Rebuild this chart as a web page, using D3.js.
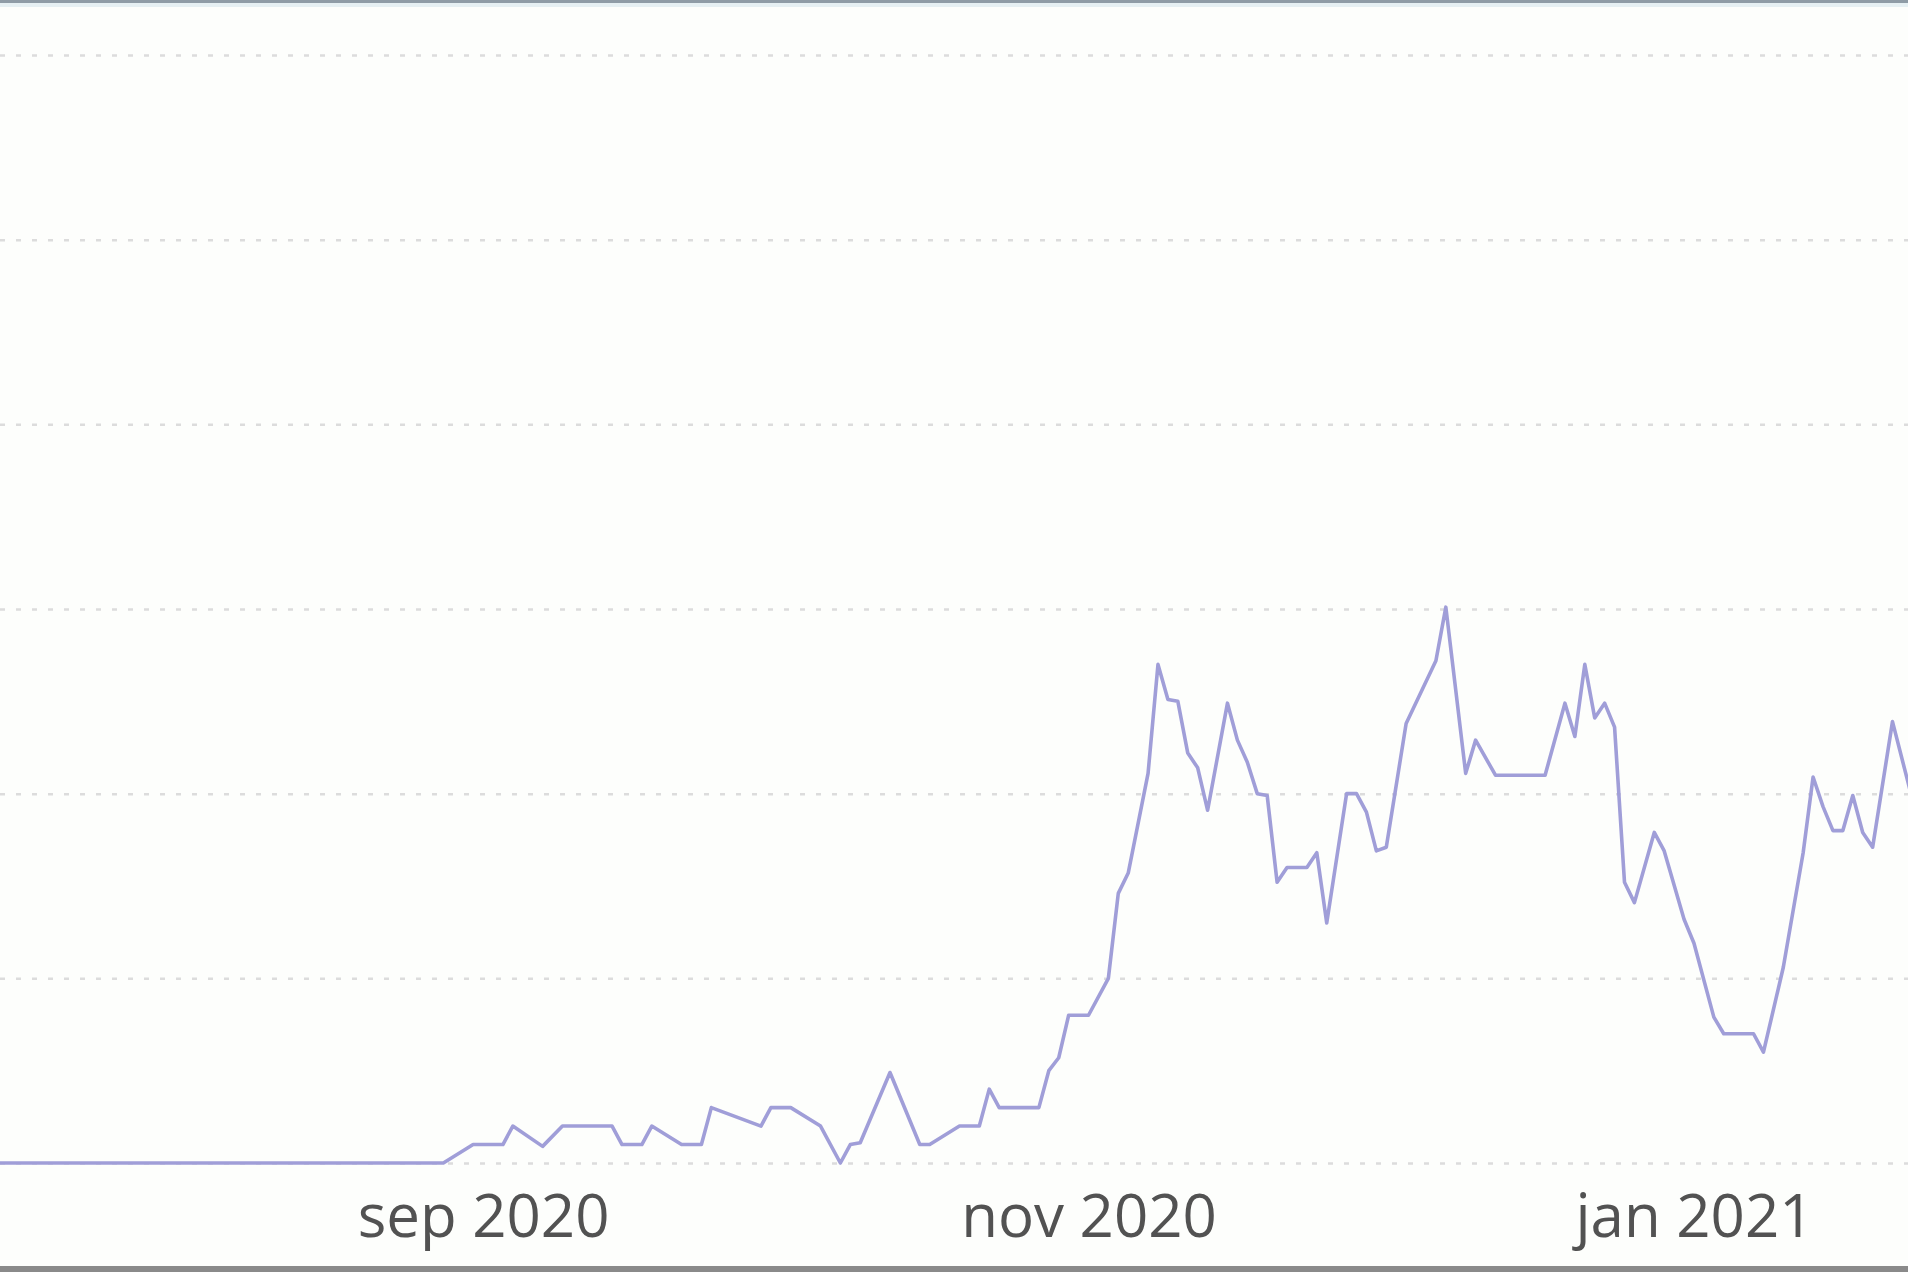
<!DOCTYPE html>
<html>
<head>
<meta charset="utf-8">
<script src="https://cdn.jsdelivr.net/npm/d3@7"></script>
<style>
  html, body { margin: 0; padding: 0; background: #fdfefc; overflow: hidden; }
  svg { display: block; }
</style>
</head>
<body>
<svg id="chart" width="1908" height="1272"></svg>
<script>
// ---- data ----
const dates = [
  "2020-07-14","2020-08-28","2020-08-31","2020-09-03","2020-09-04","2020-09-07","2020-09-09",
  "2020-09-14","2020-09-15","2020-09-17","2020-09-18","2020-09-21","2020-09-23","2020-09-24",
  "2020-09-29","2020-09-30","2020-10-02","2020-10-05","2020-10-07","2020-10-08","2020-10-09",
  "2020-10-12","2020-10-13","2020-10-15","2020-10-16","2020-10-19","2020-10-21","2020-10-22",
  "2020-10-23","2020-10-27","2020-10-28","2020-10-29","2020-10-30","2020-11-01","2020-11-03",
  "2020-11-04","2020-11-05","2020-11-07","2020-11-08","2020-11-09","2020-11-10","2020-11-11",
  "2020-11-12","2020-11-13","2020-11-15","2020-11-16","2020-11-17","2020-11-18","2020-11-19",
  "2020-11-20","2020-11-21","2020-11-23","2020-11-24","2020-11-25","2020-11-27","2020-11-28",
  "2020-11-29","2020-11-30","2020-12-01","2020-12-03","2020-12-06","2020-12-07","2020-12-09",
  "2020-12-10","2020-12-12","2020-12-17","2020-12-19","2020-12-20","2020-12-21","2020-12-22",
  "2020-12-23","2020-12-24","2020-12-25","2020-12-26","2020-12-28","2020-12-29","2020-12-31",
  "2021-01-01","2021-01-03","2021-01-04","2021-01-07","2021-01-08","2021-01-10","2021-01-12",
  "2021-01-13","2021-01-14","2021-01-15","2021-01-16","2021-01-17","2021-01-18","2021-01-19",
  "2021-01-21","2021-01-23"
];
const values = [
  0, 0, 1, 1, 2, 0.9, 2,
  2, 1, 1, 2, 1, 1, 3,
  2, 3, 3, 2, 0, 1, 1.1,
  4.9, 3.6, 1, 1, 2, 2, 4,
  3, 3, 5, 5.7, 8, 8, 10,
  14.6, 15.7, 21.1, 27, 25.1, 25, 22.2,
  21.4, 19.1, 24.9, 22.9, 21.7, 20, 19.9,
  15.2, 16, 16, 16.8, 13, 20, 20,
  19, 16.9, 17.1, 23.8, 27.2, 30.1, 21.1,
  22.9, 21, 21, 24.9, 23.1, 27, 24.1,
  24.9, 23.6, 15.2, 14.1, 17.9, 16.9, 13.2,
  11.9, 7.9, 7, 7, 6, 10.6, 16.8,
  20.9, 19.3, 18, 18, 19.9, 17.9, 17.1,
  23.9, 19.7
];
const tickDates = ["2020-09-01", "2020-11-01", "2021-01-01"];
const gridValues = [0, 10, 20, 30, 40, 50, 60];
const xDomain = ["2020-07-14T08:00", "2021-01-22T13:30"];
const yDomain = [0, 60];

// ---- drawing ----
const W = 1908, H = 1272;
const parseDay = d3.utcParse("%Y-%m-%d");
const parseDT = d3.utcParse("%Y-%m-%dT%H:%M");
const data = dates.map((d, i) => ({ date: parseDay(d), value: values[i] }));

const svg = d3.select("#chart");

svg.append("rect").attr("width", W).attr("height", H).attr("fill", "#fdfefc");

const x = d3.scaleUtc().domain(xDomain.map(parseDT)).range([0, W]);
const y = d3.scaleLinear().domain(yDomain).range([1163, 55]);

// dotted gridlines
const grid = svg.append("g")
  .call(d3.axisLeft(y).tickValues(gridValues).tickSize(-W).tickFormat(""));
grid.select(".domain").remove();
grid.selectAll(".tick line")
  .attr("stroke", "#dcdcdc")
  .attr("stroke-width", 2.5)
  .attr("stroke-dasharray", "5 11");

// line
const line = d3.line().x(d => x(d.date)).y(d => y(d.value)).curve(d3.curveLinear);
svg.append("path")
  .datum(data)
  .attr("fill", "none")
  .attr("stroke", "#a09ed8")
  .attr("stroke-width", 3.6)
  .attr("stroke-linejoin", "round")
  .attr("stroke-linecap", "round")
  .attr("d", line);

// x axis labels
const fmt = d3.utcFormat("%b %Y");
const xAxis = svg.append("g")
  .attr("transform", "translate(0,1237)")
  .call(d3.axisBottom(x)
    .tickValues(tickDates.map(parseDay))
    .tickSize(0)
    .tickPadding(0)
    .tickFormat(d => fmt(d).toLowerCase()));
xAxis.select(".domain").remove();
xAxis.selectAll("text")
  .attr("dy", "0")
  .attr("y", 0)
  .attr("fill", "#525252")
  .style("font-family", "'Open Sans', 'Noto Sans', sans-serif")
  .style("font-size", "60px");

// frame borders (top and bottom edges of the screenshot)
svg.append("rect").attr("x", 0).attr("y", 0).attr("width", W).attr("height", 3).attr("fill", "#8f9ca6");
svg.append("rect").attr("x", 0).attr("y", 3).attr("width", W).attr("height", 4).attr("fill", "#e6f0f3");
svg.append("rect").attr("x", 0).attr("y", 1266).attr("width", W).attr("height", 6).attr("fill", "#8a8a8a");
</script>
</body>
</html>
